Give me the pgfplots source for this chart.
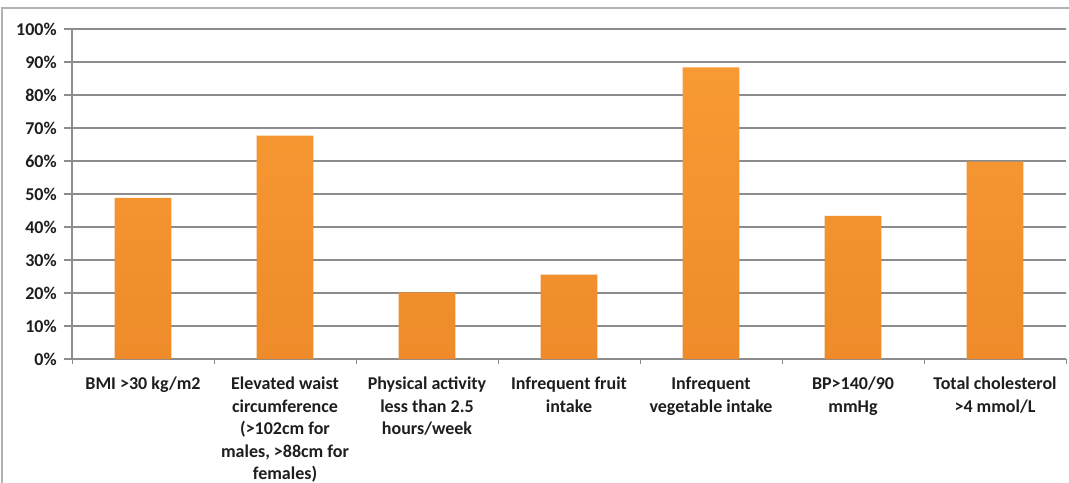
\documentclass[border=0pt]{standalone}
\usepackage{pgfplots}
\pgfplotsset{compat=1.18}
\usepackage{fontspec}
\setmainfont{Carlito}
\definecolor{gridc}{HTML}{8C8C8C}
\definecolor{barTop}{HTML}{F89A34}
\definecolor{barBot}{HTML}{EF8B2A}
\definecolor{txt}{HTML}{1E1E1E}
\begin{document}
\begin{tikzpicture}
\clip (0,0) rectangle (801.75pt,361.5pt);
\fill[white] (0,0) rectangle (801.75pt,361.5pt);
\draw[color=black!30, line width=1pt] (1.5pt,-20pt) rectangle (820pt,355.5pt);
\begin{axis}[
  at={(54pt,92.25pt)}, anchor=south west,
  scale only axis,
  width=745.5pt, height=247.5pt,
  xmin=-0.5, xmax=6.5, ymin=0, ymax=100,
  ybar, bar width=0.4,
  axis lines*=left,
  axis line style={-, color=gridc, line width=0.9pt},
  ytick={0,10,...,100},
  yticklabels={0\%,10\%,20\%,30\%,40\%,50\%,60\%,70\%,80\%,90\%,100\%},
  xtick={0,...,6},
  xticklabels={
    BMI >30 kg/m2,
    {Elevated waist\\circumference\\(>102cm for\\males, >88cm for\\females)},
    {Physical activity\\less than 2.5\\hours/week},
    {Infrequent fruit\\intake},
    {Infrequent\\vegetable intake},
    {BP>140/90\\mmHg},
    {Total cholesterol\\>4 mmol/L}},
  minor xtick={-0.5,0.5,...,6.5},
  tick align=outside,
  xtick pos=bottom, ytick pos=left,
  major x tick style={draw=none},
  minor x tick style={color=gridc, line width=0.6pt},
  minor tick length=4pt,
  major y tick style={color=gridc, line width=0.9pt},
  major tick length=6pt,
  ymajorgrids,
  grid style={color=gridc, line width=0.9pt},
  xticklabel style={align=center, inner sep=1pt, font=\bfseries\fontsize{13.5}{16.8}\selectfont, text=txt, yshift=-6.5pt},
  yticklabel style={font=\bfseries\fontsize{13.5}{16}\selectfont, text=txt, xshift=-2pt},
  /pgf/number format/assume math mode=true,
]
\addplot[draw=none, top color=barTop, bottom color=barBot] coordinates {
  (0,48.8) (1,67.7) (2,20.2) (3,25.6) (4,88.4) (5,43.4) (6,59.8)
};
\end{axis}
\end{tikzpicture}
\end{document}
